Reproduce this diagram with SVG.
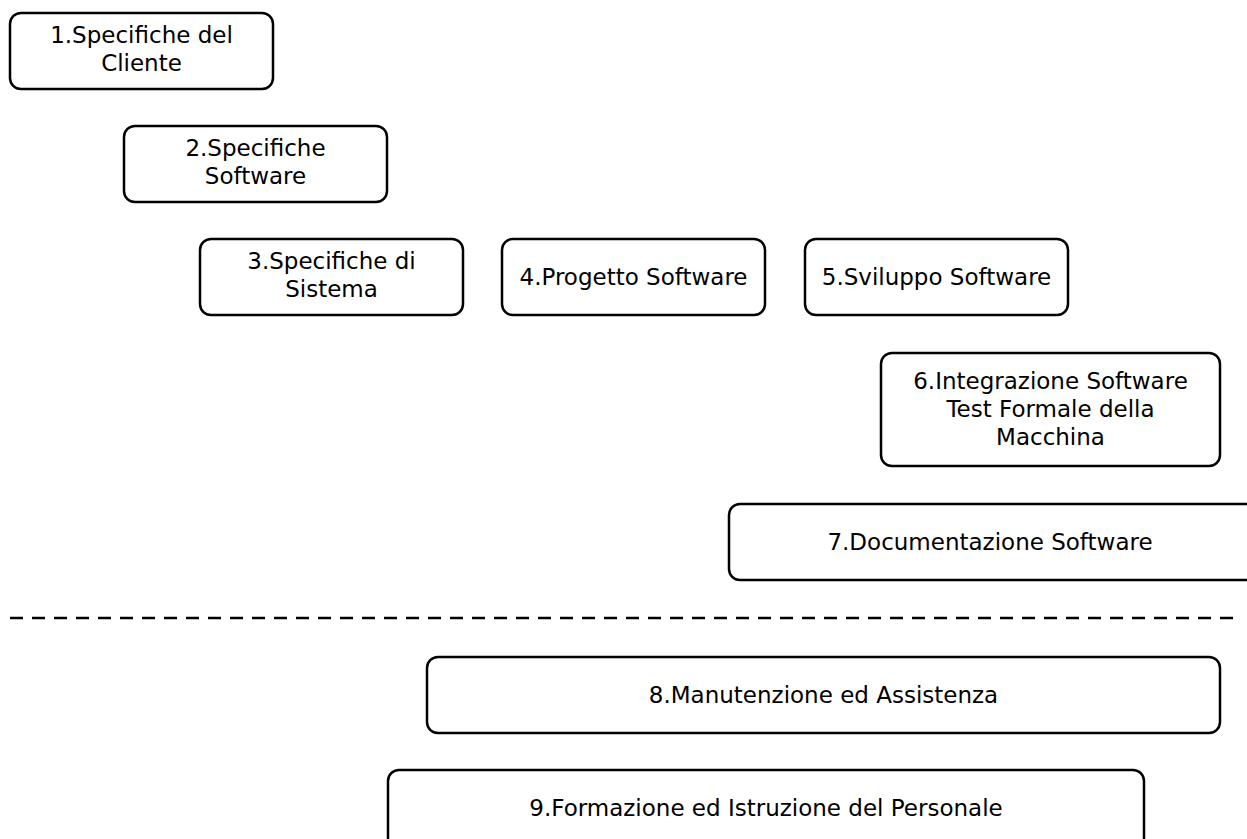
<svg xmlns="http://www.w3.org/2000/svg" width="1247" height="839" viewBox="0 0 1247 839">
<style>
.box{fill:#fff;stroke:#000;stroke-width:2.5}
text{font-family:"DejaVu Sans",Verdana,sans-serif;font-size:23px;fill:#000;text-anchor:middle;dominant-baseline:central}
.dash{stroke:#000;stroke-width:2.5;stroke-dasharray:13,9;fill:none}
</style>
<rect width="1247" height="839" fill="#fff"/>
<g id="n1"><rect class="box" x="10" y="13" width="263" height="76" rx="11"/><text x="141.5" y="35">1.Specifiche del</text><text x="141.5" y="63">Cliente</text></g>
<g id="n2"><rect class="box" x="124" y="126" width="263" height="76" rx="11"/><text x="255.5" y="148">2.Specifiche</text><text x="255.5" y="176">Software</text></g>
<g id="n3"><rect class="box" x="200" y="239" width="263" height="76" rx="11"/><text x="331.5" y="261">3.Specifiche di</text><text x="331.5" y="289">Sistema</text></g>
<g id="n4"><rect class="box" x="502" y="239" width="263" height="76" rx="11"/><text x="633.5" y="277">4.Progetto Software</text></g>
<g id="n5"><rect class="box" x="805" y="239" width="263" height="76" rx="11"/><text x="936.5" y="277">5.Sviluppo Software</text></g>
<g id="n6"><rect class="box" x="881" y="353" width="339" height="113" rx="11"/><text x="1050.5" y="381">6.Integrazione Software</text><text x="1050.5" y="409">Test Formale della</text><text x="1050.5" y="437">Macchina</text></g>
<g id="n7"><rect class="box" x="729" y="504" width="530" height="76" rx="11"/><text x="990" y="542">7.Documentazione Software</text></g>
<g id="connectors"><line class="dash" x1="10" y1="618" x2="1240" y2="618"/></g>
<g id="n8"><rect class="box" x="427" y="657" width="793" height="76" rx="11"/><text x="823.5" y="695">8.Manutenzione ed Assistenza</text></g>
<g id="n9"><rect class="box" x="388" y="770" width="756" height="80" rx="11"/><text x="766" y="808">9.Formazione ed Istruzione del Personale</text></g>
</svg>
